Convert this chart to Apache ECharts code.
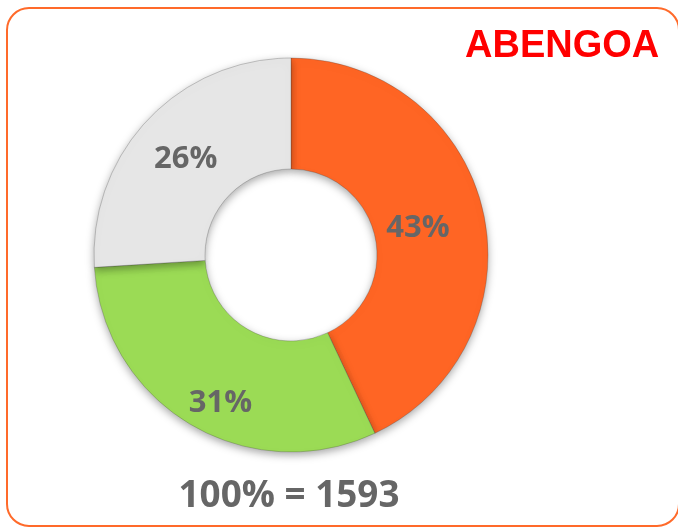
<!DOCTYPE html>
<html>
<head>
<meta charset="utf-8">
<script src="https://cdn.jsdelivr.net/npm/echarts@6/dist/echarts.min.js"></script>
<style>
  html, body { margin: 0; padding: 0; background: #fff; }
</style>
</head>
<body>
<div id="donutChart" style="width: 678px; height: 529px;"></div>
<script>
// shares of the total, clockwise from 12 o'clock
const sliceNames = ['Naranja', 'Verde', 'Gris']
const sliceValues = [43, 31, 26]
const sliceColors = ['#ff6524', '#9bdb55', '#e6e6e6']
const totalText = '100% = 1593'
const brandText = 'ABENGOA'

const chart = echarts.init(document.getElementById('donutChart'))
const labelColor = '#666666'

const options = {
  animation: false,
  graphic: [
    {
      type: 'rect',
      shape: { x: 7, y: 8, width: 672, height: 518, r: 22 },
      style: { fill: 'none', stroke: '#ff6a2a', lineWidth: 2 }
    },
    {
      type: 'text',
      x: 465,
      y: 47,
      scaleX: 1.0,
      style: {
        text: brandText,
        fill: '#ff0000',
        textAlign: 'left',
        textVerticalAlign: 'middle',
        font: 'bold 38px "Liberation Sans", Arial, sans-serif'
      }
    },
    {
      type: 'text',
      x: 289,
      y: 496,
      scaleX: 0.97,
      style: {
        text: totalText,
        fill: labelColor,
        textAlign: 'center',
        textVerticalAlign: 'middle',
        font: 'bold 38px "Open Sans", "Noto Sans", sans-serif'
      }
    }
  ],
  series: [{
    type: 'pie',
    center: [291, 255],
    radius: [86, 197],
    startAngle: 90,
    clockwise: true,
    itemStyle: {
      borderColor: 'rgba(60,60,60,0.45)',
      borderWidth: 0.6,
      shadowBlur: 8,
      shadowOffsetY: 3,
      shadowColor: 'rgba(0,0,0,0.35)'
    },
    label: {
      show: true,
      position: 'inside',
      formatter: '{c}%',
      color: labelColor,
      fontSize: 31,
      fontWeight: 'bold',
      fontFamily: '"Open Sans", "Noto Sans", sans-serif'
    },
    labelLine: { show: false },
    data: sliceValues.map((v, i) => ({
      name: sliceNames[i],
      value: v,
      itemStyle: { color: sliceColors[i] },
      label: i === 1 ? { offset: [3, 24] } : (i === 0 ? { offset: [-14, 5] } : { offset: [0, 3] })
    }))
  }]
}
chart.setOption(options)
</script>
</body>
</html>
